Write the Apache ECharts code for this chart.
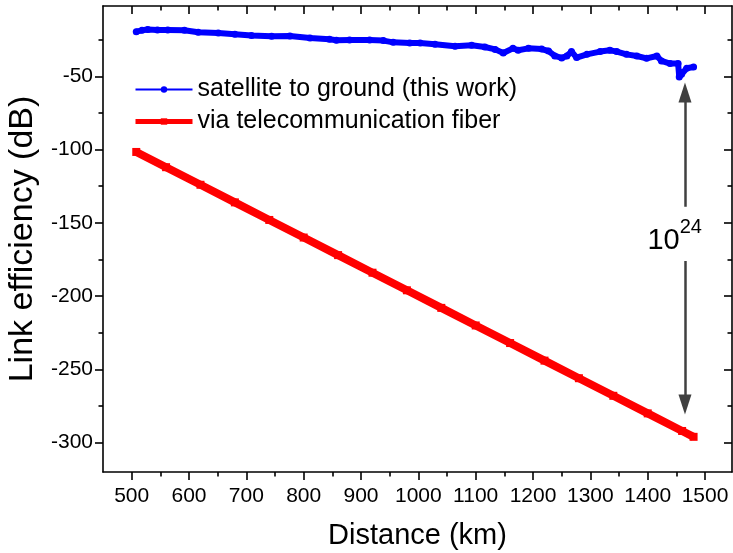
<!DOCTYPE html>
<html>
<head>
<meta charset="utf-8">
<script src="https://cdn.jsdelivr.net/npm/echarts@6/dist/echarts.min.js"></script>
<style>
html,body{margin:0;padding:0;background:#fff;}
#c{width:733px;height:553px;}
</style>
</head>
<body>
<div id="c"></div>
<script>
// ---- data ----
var satDistance = [508, 518, 528, 545, 563, 592, 616, 651, 680, 709, 744, 776, 811, 845, 857, 880, 915, 939, 956, 985, 1003, 1029, 1064, 1093, 1116, 1134, 1148, 1165, 1174, 1192, 1215, 1227, 1238, 1250, 1259, 1267, 1276, 1294, 1317, 1334, 1346, 1363, 1381, 1398, 1416, 1424, 1439, 1453, 1455, 1459, 1468, 1480];
var satEfficiency = [-19.5, -18.6, -18.1, -18.3, -18.4, -18.6, -19.9, -20.4, -21.3, -22.2, -22.7, -22.5, -23.8, -24.7, -25.4, -25.2, -25.2, -25.6, -26.8, -27.3, -27.3, -28.1, -29.5, -28.8, -30.0, -31.6, -34.1, -30.9, -32.2, -30.9, -31.4, -32.7, -36.1, -37.4, -36.1, -33.1, -37.2, -35.0, -33.1, -32.2, -33.1, -35.0, -36.1, -37.7, -36.1, -39.5, -41.3, -41.3, -50.5, -48.6, -44.5, -43.6];
var fiberDistance = [508, 560, 620, 680, 740, 800, 860, 920, 980, 1040, 1100, 1160, 1220, 1280, 1340, 1400, 1460, 1480];
var fiberEfficiency = [-101.6, -112, -124, -136, -148, -160, -172, -184, -196, -208, -220, -232, -244, -256, -268, -280, -292, -296];
var xMajorTicks = [500, 600, 700, 800, 900, 1000, 1100, 1200, 1300, 1400, 1500];
var xMinorTicks = [550, 650, 750, 850, 950, 1050, 1150, 1250, 1350, 1450];
var yMajorTicks = [-300, -250, -200, -150, -100, -50];
var yMinorTicks = [-275, -225, -175, -125, -75, -25];
var seriesNames = ['satellite to ground (this work)', 'via telecommunication fiber'];
var xTitle = 'Distance (km)';
var yTitle = 'Link efficiency (dB)';
var gapLabelBase = '10';
var gapLabelExp = '24';
var arrowX = 1465;
var upperArrow = [-139, -61];
var lowerArrow = [-176, -274];
var gapLabelPos = [1447, -159];

function zip(a, b) { var r = []; for (var i = 0; i < a.length; i++) r.push([a[i], b[i]]); return r; }

var FONT = '"Liberation Sans", Arial, sans-serif';
var X_MIN = 450, X_MAX = 1547, Y_MIN = -320, Y_MAX = -2;
var axisColor = '#000';
var plain = function (v) { return String(v); };

function xAx(pos, ticks, len, inside, showLine, showLabel) {
  return {
    type: 'value', position: pos, min: X_MIN, max: X_MAX,
    axisLine: { show: showLine, onZero: false, lineStyle: { color: axisColor, width: 1.6 } },
    axisTick: { show: true, inside: inside, length: len, customValues: ticks, lineStyle: { color: axisColor, width: 1.6 } },
    axisLabel: showLabel ? { show: true, customValues: ticks, formatter: plain, fontSize: 21, color: '#000', fontFamily: FONT, margin: 14 } : { show: false },
    splitLine: { show: false }, minorTick: { show: false }
  };
}
function yAx(pos, ticks, len, inside, showLine, showLabel) {
  return {
    type: 'value', position: pos, min: Y_MIN, max: Y_MAX,
    axisLine: { show: showLine, onZero: false, lineStyle: { color: axisColor, width: 1.6 } },
    axisTick: { show: true, inside: inside, length: len, customValues: ticks, lineStyle: { color: axisColor, width: 1.6 } },
    axisLabel: showLabel ? { show: true, customValues: ticks, formatter: plain, fontSize: 21, color: '#000', fontFamily: FONT, margin: 10 } : { show: false },
    splitLine: { show: false }, minorTick: { show: false }
  };
}

var xAxes = [
  xAx('bottom', xMajorTicks, 8, false, true, true),
  xAx('bottom', xMinorTicks, 4.5, false, false, false),
  xAx('top', xMajorTicks, 8, true, true, false),
  xAx('top', xMinorTicks, 4.5, true, false, false)
];
xAxes[0].name = xTitle;
xAxes[0].nameLocation = 'middle';
xAxes[0].nameGap = 49;
xAxes[0].nameTextStyle = { fontSize: 29, color: '#000', fontFamily: FONT };

var yAxes = [
  yAx('left', yMajorTicks, 8, false, true, true),
  yAx('left', yMinorTicks, 4.5, false, false, false),
  yAx('right', yMajorTicks, 8, true, true, false),
  yAx('right', yMinorTicks, 4.5, true, false, false)
];
yAxes[0].name = yTitle;
yAxes[0].nameLocation = 'middle';
yAxes[0].nameGap = 57;
yAxes[0].nameTextStyle = { fontSize: 34, color: '#000', fontFamily: FONT };

var chart = echarts.init(document.getElementById('c'), null, { renderer: 'canvas' });
chart.setOption({
  animation: false,
  backgroundColor: '#fff',
  grid: { left: 103, right: 1, top: 6, bottom: 81, containLabel: false, outerBoundsMode: 'none' },
  xAxis: xAxes,
  yAxis: yAxes,
  legend: {
    orient: 'vertical', left: 133, top: 77, padding: 0,
    itemWidth: 57, itemHeight: 8, itemGap: 7,
    textStyle: { fontSize: 25, color: '#000', fontFamily: FONT },
    data: [
      { name: seriesNames[0], lineStyle: { width: 2 }, itemStyle: { color: '#0000ff' } },
      { name: seriesNames[1], lineStyle: { width: 5 }, itemStyle: { color: '#ff0000' } }
    ]
  },
  series: [
    {
      name: seriesNames[1], type: 'line', xAxisIndex: 0, yAxisIndex: 0,
      data: zip(fiberDistance, fiberEfficiency),
      color: '#ff0000', symbol: 'rect', symbolSize: 8, showSymbol: true,
      lineStyle: { width: 8, color: '#ff0000' }, itemStyle: { color: '#ff0000' },
      z: 2,
      markLine: {
        silent: true, animation: false,
        lineStyle: { color: '#404040', width: 2.5, type: 'solid' },
        label: { show: false },
        data: [
          [ { coord: [arrowX, upperArrow[0]], symbol: 'none' },
            { coord: [arrowX, upperArrow[1]], symbol: 'triangle', symbolSize: [13, 20] } ],
          [ { coord: [arrowX, lowerArrow[0]], symbol: 'none' },
            { coord: [arrowX, lowerArrow[1]], symbol: 'triangle', symbolSize: [13, 20] } ]
        ]
      },
      markPoint: {
        silent: true, animation: false, symbol: 'circle', symbolSize: 0,
        data: [{
          coord: gapLabelPos,
          label: {
            show: true, position: 'inside',
            formatter: '{a|' + gapLabelBase + '}{b|' + gapLabelExp + '}',
            rich: {
              a: { fontSize: 29, lineHeight: 38, verticalAlign: 'bottom', color: '#000', fontFamily: FONT },
              b: { fontSize: 20, lineHeight: 17, verticalAlign: 'top', color: '#000', fontFamily: FONT }
            }
          }
        }]
      }
    },
    {
      name: seriesNames[0], type: 'line', xAxisIndex: 0, yAxisIndex: 0,
      data: zip(satDistance, satEfficiency),
      color: '#0000ff', symbol: 'circle', symbolSize: 7, showSymbol: true,
      lineStyle: { width: 6, color: '#0000ff' }, itemStyle: { color: '#0000ff' },
      z: 3
    }
  ]
});
</script>
</body>
</html>
